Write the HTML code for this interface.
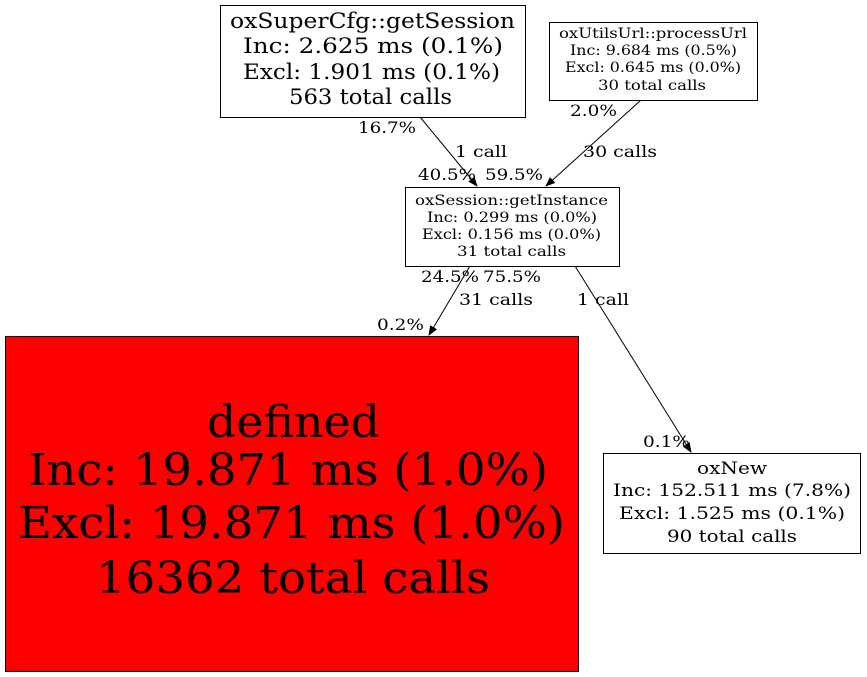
<!DOCTYPE html>
<html><head><meta charset="utf-8"><style>
html,body{margin:0;padding:0;background:#fff;}
svg{display:block;}
text{font-family:"DejaVu Serif","Liberation Serif",serif;fill:#000;}
</style></head><body>
<svg width="867" height="677" viewBox="0 0 867 677" xmlns="http://www.w3.org/2000/svg">
<defs><marker id="a" markerWidth="10" markerHeight="8" refX="9" refY="4" orient="auto" markerUnits="userSpaceOnUse"><path d="M0,0 L10,4 L0,8 Z" fill="#000"/></marker></defs>
<rect x="0" y="0" width="867" height="677" fill="#fff"/>
<line x1="420" y1="117" x2="477" y2="186" stroke="#000" marker-end="url(#a)"/>
<line x1="641" y1="100" x2="546" y2="186" stroke="#000" marker-end="url(#a)"/>
<line x1="470" y1="266" x2="429" y2="335" stroke="#000" marker-end="url(#a)"/>
<line x1="575" y1="266" x2="691" y2="452" stroke="#000" marker-end="url(#a)"/>
<rect x="220.5" y="5.5" width="305" height="112" fill="#fff" stroke="#000"/>
<g font-size="21" lengthAdjust="spacingAndGlyphs">
<text x="230" y="28" textLength="285" lengthAdjust="spacingAndGlyphs">oxSuperCfg::getSession</text>
<text x="243" y="53" textLength="260" lengthAdjust="spacingAndGlyphs">Inc: 2.625 ms (0.1%)</text>
<text x="243" y="79" textLength="257" lengthAdjust="spacingAndGlyphs">Excl: 1.901 ms (0.1%)</text>
<text x="289" y="104" textLength="163" lengthAdjust="spacingAndGlyphs">563 total calls</text>
</g>
<rect x="549.5" y="22.5" width="208" height="78" fill="#fff" stroke="#000"/>
<g font-size="14">
<text x="559" y="38" textLength="188" lengthAdjust="spacingAndGlyphs">oxUtilsUrl::processUrl</text>
<text x="570" y="55" textLength="167" lengthAdjust="spacingAndGlyphs">Inc: 9.684 ms (0.5%)</text>
<text x="565" y="72" textLength="176" lengthAdjust="spacingAndGlyphs">Excl: 0.645 ms (0.0%)</text>
<text x="598" y="90" textLength="108" lengthAdjust="spacingAndGlyphs">30 total calls</text>
</g>
<rect x="405.5" y="187.5" width="214" height="79" fill="#fff" stroke="#000"/>
<g font-size="14">
<text x="415" y="205" textLength="193" lengthAdjust="spacingAndGlyphs">oxSession::getInstance</text>
<text x="427" y="222" textLength="170" lengthAdjust="spacingAndGlyphs">Inc: 0.299 ms (0.0%)</text>
<text x="422" y="239" textLength="179" lengthAdjust="spacingAndGlyphs">Excl: 0.156 ms (0.0%)</text>
<text x="457" y="256" textLength="109" lengthAdjust="spacingAndGlyphs">31 total calls</text>
</g>
<rect x="5.5" y="336.5" width="573" height="335" fill="#ff0000" stroke="#000"/>
<g font-size="44">
<text x="207" y="437" textLength="173" lengthAdjust="spacingAndGlyphs">defined</text>
<text x="28" y="485" textLength="520" lengthAdjust="spacingAndGlyphs">Inc: 19.871 ms (1.0%)</text>
<text x="18" y="538" textLength="547" lengthAdjust="spacingAndGlyphs">Excl: 19.871 ms (1.0%)</text>
<text x="96" y="593" textLength="394" lengthAdjust="spacingAndGlyphs">16362 total calls</text>
</g>
<rect x="603.5" y="453.5" width="257" height="100" fill="#fff" stroke="#000"/>
<g font-size="17">
<text x="697" y="474" textLength="70" lengthAdjust="spacingAndGlyphs">oxNew</text>
<text x="613" y="496" textLength="238" lengthAdjust="spacingAndGlyphs">Inc: 152.511 ms (7.8%)</text>
<text x="619" y="519" textLength="226" lengthAdjust="spacingAndGlyphs">Excl: 1.525 ms (0.1%)</text>
<text x="667" y="542" textLength="130" lengthAdjust="spacingAndGlyphs">90 total calls</text>
</g>
<g font-size="16">
<text x="358" y="133" textLength="58" lengthAdjust="spacingAndGlyphs">16.7%</text>
<text x="455" y="157" textLength="52" lengthAdjust="spacingAndGlyphs">1 call</text>
<text x="418" y="180" textLength="58" lengthAdjust="spacingAndGlyphs">40.5%</text>
<text x="485" y="180" textLength="58" lengthAdjust="spacingAndGlyphs">59.5%</text>
<text x="570" y="116" textLength="47" lengthAdjust="spacingAndGlyphs">2.0%</text>
<text x="583" y="157" textLength="74" lengthAdjust="spacingAndGlyphs">30 calls</text>
<text x="421" y="282" textLength="58" lengthAdjust="spacingAndGlyphs">24.5%</text>
<text x="483" y="282" textLength="58" lengthAdjust="spacingAndGlyphs">75.5%</text>
<text x="459" y="305" textLength="74" lengthAdjust="spacingAndGlyphs">31 calls</text>
<text x="577" y="305" textLength="52" lengthAdjust="spacingAndGlyphs">1 call</text>
<text x="377" y="330" textLength="47" lengthAdjust="spacingAndGlyphs">0.2%</text>
<text x="643" y="447" textLength="47" lengthAdjust="spacingAndGlyphs">0.1%</text>
</g>
</svg>
</body></html>
